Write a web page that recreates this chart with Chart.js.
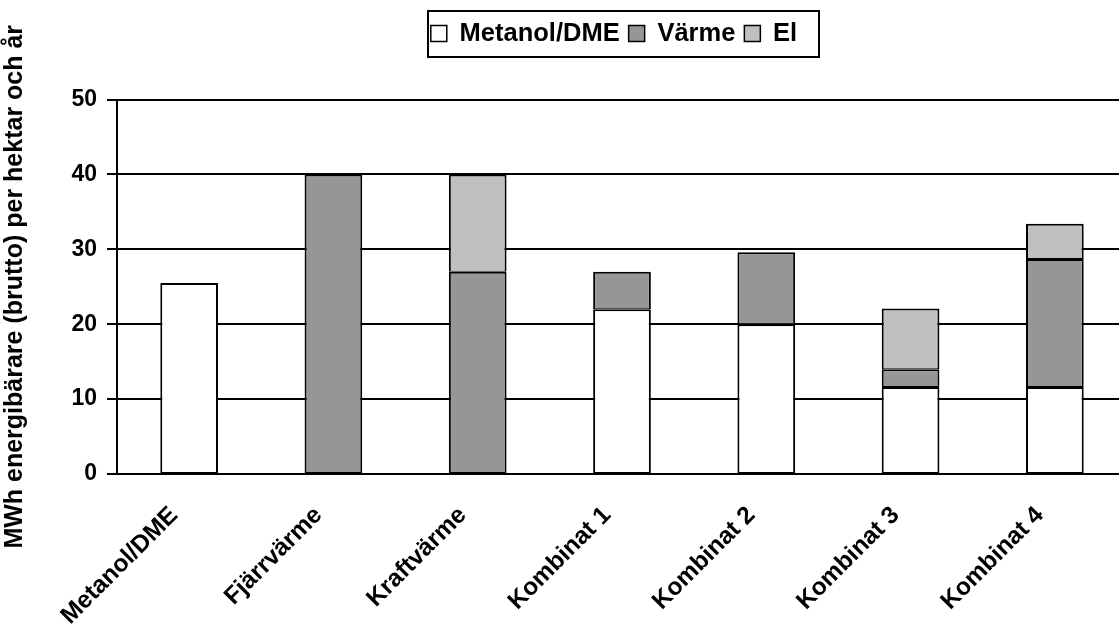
<!DOCTYPE html>
<html>
<head>
<meta charset="utf-8">
<script src="https://cdn.jsdelivr.net/npm/chart.js@4.4.1/dist/chart.umd.min.js"></script>
<style>
  html, body { margin: 0; padding: 0; background: #fff; overflow: hidden; }
  #wrap { width: 1127px; height: 630px; }
</style>
</head>
<body>
<div id="wrap"><canvas id="energiChart" width="1127" height="630"></canvas></div>
<script>
// data
const categories = ["Metanol/DME", "Fjärrvärme", "Kraftvärme", "Kombinat 1", "Kombinat 2", "Kombinat 3", "Kombinat 4"];
const metanolValues = [25.5, 0, 0, 22, 20, 11.6, 11.6];
const varmeValues = [0, 40, 27, 5, 9.6, 2.4, 17.1];
const elValues = [0, 0, 13, 0, 0, 8.1, 4.7];
const yTicks = [0, 10, 20, 30, 40, 50];

const FONT = "'Liberation Sans', Arial, sans-serif";

// move the legend to where it sits in the original and frame it
const legendFrame = {
  id: "legendFrame",
  afterLayout(chart) {
    const lg = chart.legend;
    const dx = 614 - (lg.left + lg.right) / 2;
    const dy = 34 - (lg.top + lg.height / 2);
    lg.left += dx; lg.right += dx;
    lg.top += dy; lg.bottom += dy;
  },
  afterDraw(chart) {
    const boxes = chart.legend.legendHitBoxes;
    if (!boxes || !boxes.length) return;
    let l = Infinity, r = -Infinity, t = Infinity, b = -Infinity;
    boxes.forEach(h => {
      l = Math.min(l, h.left); r = Math.max(r, h.left + h.width);
      t = Math.min(t, h.top); b = Math.max(b, h.top + h.height);
    });
    const ctx = chart.ctx;
    ctx.save();
    ctx.strokeStyle = "#000";
    ctx.lineWidth = 2;
    ctx.strokeRect(Math.round(l - 3), Math.round(t - 10), Math.round(r - l + 25), Math.round(b - t + 20));
    ctx.restore();
  }
};

const noZero = arr => arr.map(v => (v === 0 ? null : v));

const ctx = document.getElementById("energiChart");
new Chart(ctx, {
  type: "bar",
  data: {
    labels: categories,
    datasets: [
      { label: "Metanol/DME", data: noZero(metanolValues), backgroundColor: "#ffffff" },
      { label: "Värme", data: noZero(varmeValues), backgroundColor: "#969696" },
      { label: "El", data: noZero(elValues), backgroundColor: "#c0c0c0" }
    ].map(d => Object.assign(d, {
      borderColor: "#000",
      borderWidth: { top: 2, left: 2, right: 2, bottom: 1 },
      borderSkipped: false,
      categoryPercentage: 1,
      barPercentage: 0.4
    }))
  },
  options: {
    responsive: false,
    maintainAspectRatio: false,
    animation: false,
    layout: { padding: { top: 55, right: 0, left: 0, bottom: 0 } },
    plugins: {
      legend: {
        position: "top",
        labels: {
          color: "#000",
          font: { family: FONT, size: 25.5, weight: "bold" },
          boxWidth: 16,
          boxHeight: 16,
          padding: 9,
          generateLabels(chart) {
            return chart.data.datasets.map((d, i) => ({
              text: d.label,
              fillStyle: d.backgroundColor,
              strokeStyle: "#000",
              lineWidth: 1.5,
              datasetIndex: i
            }));
          }
        }
      },
      tooltip: { enabled: false }
    },
    scales: {
      x: {
        stacked: true,
        grid: { display: false },
        border: { display: false },
        ticks: {
          color: "#000",
          font: { family: FONT, size: 24.5, weight: "bold" },
          maxRotation: 45,
          minRotation: 45,
          padding: 19,
          labelOffset: -15
        },
        afterFit(scale) { scale.height = 156; }
      },
      y: {
        stacked: true,
        min: 0,
        max: 50,
        afterBuildTicks(scale) { scale.ticks = yTicks.map(v => ({ value: v })); },
        grid: { color: "#000", lineWidth: 2, tickLength: 10 },
        border: { color: "#000", width: 2 },
        ticks: {
          color: "#000",
          font: { family: FONT, size: 23, weight: "bold" },
          padding: 10
        },
        title: {
          display: true,
          text: "MWh energibärare (brutto) per hektar och år",
          color: "#000",
          font: { family: FONT, size: 25, weight: "bold" },
          padding: { top: 0, bottom: 6 }
        },
        afterFit(scale) { scale.width = 117; }
      }
    }
  },
  plugins: [legendFrame]
});
</script>
</body>
</html>
